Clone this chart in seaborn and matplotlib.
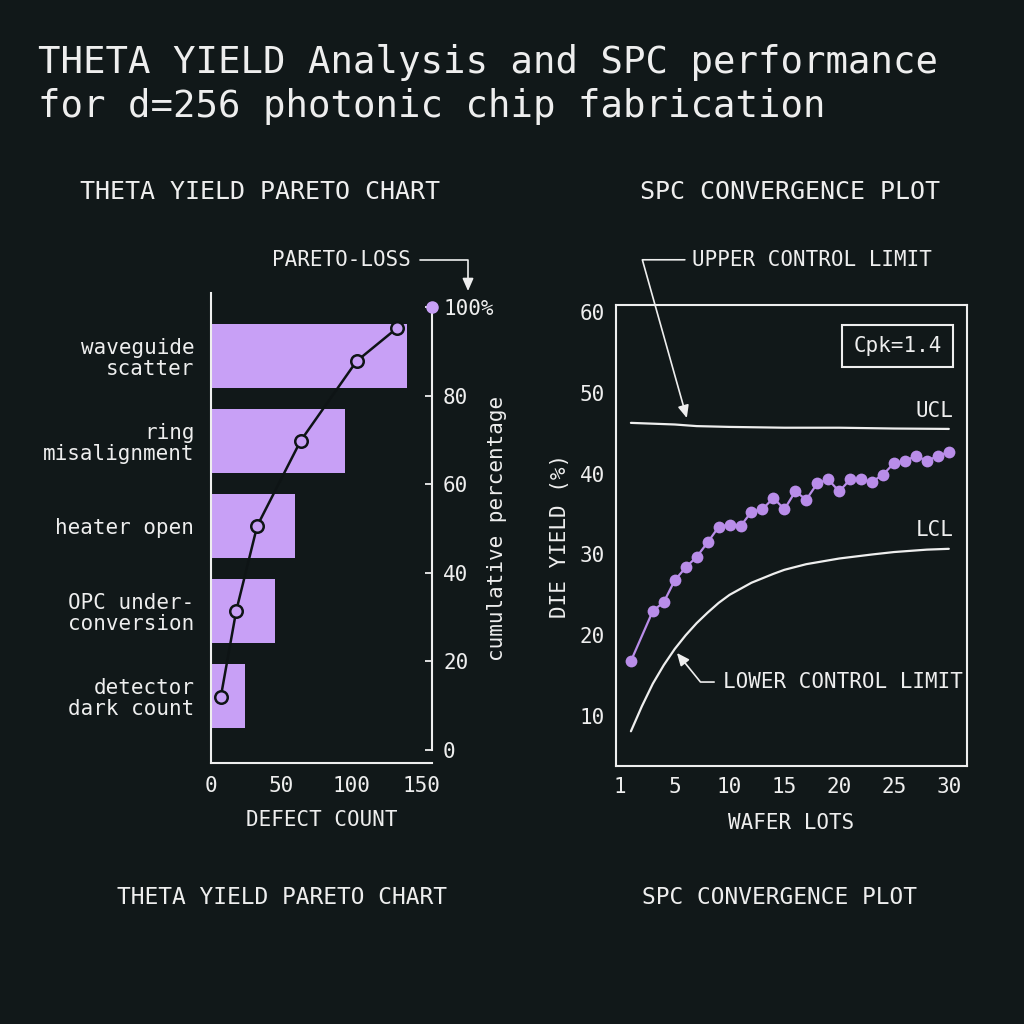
import matplotlib
matplotlib.use("Agg")
import matplotlib.pyplot as plt
import seaborn as sns

# ---------------- data ----------------
categories = ["waveguide\nscatter", "ring\nmisalignment", "heater open",
              "OPC under-\nconversion", "detector\ndark count"]
defect_counts = [140, 96, 60, 46, 24]

cum_x = [7, 18, 33, 64, 104, 133]
cum_pct = [12.0, 31.4, 50.6, 69.8, 87.8, 95.3]

count_ticks = [0, 50, 100, 150]
pct_ticks = [0, 20, 40, 60, 80, 100]
pct_tick_labels = ["0", "20", "40", "60", "80", "100%"]

lots = [1, 3, 4, 5, 6, 7, 8, 9, 10, 11, 12, 13, 14, 15, 16, 17, 18, 19, 20,
        21, 22, 23, 24, 25, 26, 27, 28, 29, 30]
die_yield = [16.8, 23.0, 24.1, 26.8, 28.4, 29.7, 31.5, 33.4, 33.7, 33.5, 35.3,
             35.6, 37.0, 35.6, 37.8, 36.8, 38.8, 39.3, 37.8, 39.3, 39.3, 39.0,
             39.9, 41.3, 41.6, 42.2, 41.6, 42.2, 42.7]

ucl_x = [1, 3, 5, 7, 10, 15, 20, 25, 30]
ucl = [46.3, 46.2, 46.1, 45.9, 45.8, 45.7, 45.7, 45.6, 45.55]

lcl_x = [1, 2, 3, 4, 5, 6, 7, 8, 9, 10, 12, 14, 15, 17, 20, 23, 25, 28, 30]
lcl = [8.1, 11.2, 14.0, 16.3, 18.3, 20.0, 21.5, 22.8, 24.0, 25.0, 26.5, 27.6,
       28.1, 28.8, 29.5, 30.0, 30.3, 30.6, 30.7]

lot_tick_pos = [0, 5, 10, 15, 20, 25, 30]
lot_tick_labels = ["1", "5", "10", "15", "20", "25", "30"]
yield_ticks = [10, 20, 30, 40, 50, 60]

# ---------------- style ----------------
BG = "#111819"
FG = "#eeeeee"
BAR = "#c8a0f6"
PT = "#b98de9"
DARK = "#0e1415"

sns.set_theme(style="dark", rc={
    "axes.facecolor": BG, "figure.facecolor": BG, "savefig.facecolor": BG,
    "text.color": FG, "axes.labelcolor": FG, "xtick.color": FG,
    "ytick.color": FG, "axes.edgecolor": FG, "axes.grid": False,
})
plt.rcParams["font.family"] = ["DejaVu Sans Mono", "DejaVu Sans"]

fig = plt.figure(figsize=(10.24, 10.24), dpi=100)
W = 1024.0

# ---------------- left: pareto ----------------
ax1 = fig.add_axes([211 / W, 1 - 763 / W, (432 - 211) / W, (763 - 293) / W])
sns.barplot(x=defect_counts, y=categories, orient="h", color=BAR,
            saturation=1, width=0.75, ax=ax1, edgecolor="none")
ax1.set_xlim(0, 157.9)
ax1.set_ylim(4.79, -0.74)
ax1.set_xticks(count_ticks)
ax1.tick_params(axis="y", length=0, pad=12, labelsize=15, colors=FG)
ax1.tick_params(axis="x", direction="in", length=6.5, width=1.3, pad=9,
                labelsize=15, colors=FG)
for t in ax1.get_yticklabels():
    t.set_linespacing(1.05)
for s in ["top", "right"]:
    ax1.spines[s].set_visible(False)
for s in ["left", "bottom"]:
    ax1.spines[s].set_color(FG)
    ax1.spines[s].set_linewidth(1.5)
ax1.set_xlabel("DEFECT COUNT", fontsize=15, color=FG, va="center")
ax1.xaxis.set_label_coords(0.5, (763 - 820) / 470)
ax1.set_ylabel("")

ax2 = ax1.twinx()
sns.lineplot(x=cum_x, y=cum_pct, ax=ax2, color=DARK, lw=1.8, sort=False,
             marker="o", markersize=9, markerfacecolor=BAR,
             markeredgecolor=DARK, markeredgewidth=1.8)
ax2.set_ylim(-2.93, 103.2)
ax2.set_xlim(0, 157.9)
ax2.set_yticks(pct_ticks, pct_tick_labels)
ax2.tick_params(axis="y", direction="in", length=5, width=1.3, pad=8,
                labelsize=15, colors=FG)
for s in ["left", "top", "bottom"]:
    ax2.spines[s].set_visible(False)
ax2.spines["right"].set_bounds(0, 100)
ax2.spines["right"].set_color(FG)
ax2.spines["right"].set_linewidth(1.5)
ax2.plot([1.0], [100], "o", transform=ax2.get_yaxis_transform(),
         clip_on=False, ms=8, color=BAR, zorder=5)
ax2.set_ylabel("cumulative percentage", fontsize=15, color=FG)
ax2.yaxis.label.set_va("center")
ax2.yaxis.set_label_coords((497 - 211) / 221, 0.5)

ax1.annotate("PARETO-LOSS", xy=(468 / W, 1 - 291 / W),
             xytext=(272 / W, 1 - 260 / W),
             xycoords="figure fraction", textcoords="figure fraction",
             ha="left", va="center", fontsize=15, color=FG,
             annotation_clip=False,
             arrowprops=dict(arrowstyle="-|>,head_length=0.5,head_width=0.22",
                             color=FG, lw=1.2, shrinkA=4, shrinkB=0,
                             connectionstyle="angle,angleA=0,angleB=90,rad=0"))

# ---------------- right: SPC ----------------
ax3 = fig.add_axes([616 / W, 1 - 766 / W, (967 - 616) / W, (766 - 305) / W])
sns.lineplot(x=ucl_x, y=ucl, ax=ax3, color=FG, lw=1.6)
sns.lineplot(x=lcl_x, y=lcl, ax=ax3, color=FG, lw=1.6)
sns.lineplot(x=lots, y=die_yield, ax=ax3, color=PT, lw=1.6, marker="o",
             markersize=8.5, markeredgewidth=0, markerfacecolor=PT)
ax3.set_xlim(-0.36, 31.66)
ax3.set_ylim(3.8, 60.9)
ax3.set_xticks(lot_tick_pos, lot_tick_labels)
ax3.set_yticks(yield_ticks)
ax3.tick_params(axis="both", direction="in", length=5.5, width=1.3,
                labelsize=15, colors=FG, pad=8)
for s in ax3.spines.values():
    s.set_visible(True)
    s.set_color(FG)
    s.set_linewidth(1.5)
ax3.set_xlabel("WAFER LOTS", fontsize=15, color=FG, va="center")
ax3.xaxis.set_label_coords(0.5, (766 - 823) / 461)
ax3.set_ylabel("DIE YIELD (%)", fontsize=15, color=FG, va="center")
ax3.yaxis.set_label_coords((560 - 616) / 351, 0.5)

ax3.text(30.4, 47.8, "UCL", ha="right", va="center", fontsize=15, color=FG)
ax3.text(30.4, 33.0, "LCL", ha="right", va="center", fontsize=15, color=FG)
ax3.text(0.803, 0.911, "Cpk=1.4", transform=ax3.transAxes, ha="center",
         va="center", fontsize=15, color=FG,
         bbox=dict(boxstyle="square,pad=0.55", fc=BG, ec=FG, lw=1.5))

ax3.annotate("UPPER CONTROL LIMIT", xy=(6.1, 46.9), xytext=(6.6, 66.5),
             ha="left", va="center", fontsize=15, color=FG,
             annotation_clip=False,
             arrowprops=dict(arrowstyle="-|>,head_length=0.5,head_width=0.22",
                             color=FG, lw=1.2, shrinkA=3, shrinkB=0,
                             connectionstyle="angle,angleA=0,angleB=105.7,rad=0"))
ax3.annotate("LOWER CONTROL LIMIT", xy=(5.2, 17.8), xytext=(9.4, 14.2),
             ha="left", va="center", fontsize=15, color=FG,
             annotation_clip=False,
             arrowprops=dict(arrowstyle="-|>,head_length=0.5,head_width=0.22",
                             color=FG, lw=1.2, shrinkA=4, shrinkB=0,
                             connectionstyle="angle,angleA=0,angleB=-51,rad=0"))

# ---------------- titles ----------------
fig.text(38 / W, 1 - 73 / W, "THETA YIELD Analysis and SPC performance",
         ha="left", va="baseline", fontsize=26.9, color=FG)
fig.text(38 / W, 1 - 117 / W, "for d=256 photonic chip fabrication",
         ha="left", va="baseline", fontsize=26.9, color=FG)
fig.text(260 / W, 1 - 192 / W, "THETA YIELD PARETO CHART", ha="center",
         va="center", fontsize=18, color=FG)
fig.text(790 / W, 1 - 192 / W, "SPC CONVERGENCE PLOT", ha="center",
         va="center", fontsize=18, color=FG)
fig.text(282 / W, 1 - 897 / W, "THETA YIELD PARETO CHART", ha="center",
         va="center", fontsize=16.5, color=FG)
fig.text(779.5 / W, 1 - 897 / W, "SPC CONVERGENCE PLOT", ha="center",
         va="center", fontsize=16.5, color=FG)

fig.savefig("out.png", dpi=100, facecolor=BG)
